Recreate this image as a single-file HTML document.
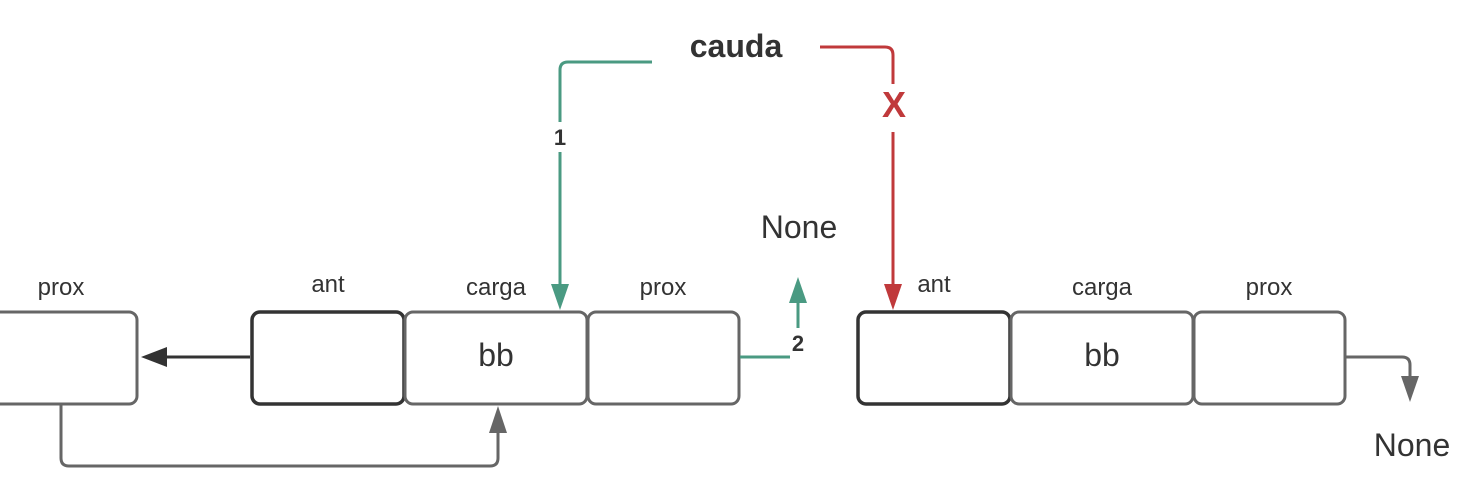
<!DOCTYPE html>
<html><head><style>
html,body{margin:0;padding:0;background:#fff;}
svg{display:block;}
text{font-family:"Liberation Sans",sans-serif;fill:#333;}
</style></head><body>
<svg width="1480" height="502" viewBox="0 0 1480 502" xmlns="http://www.w3.org/2000/svg">
<g fill="#fff" stroke-width="3">
<rect x="-20" y="312" width="157" height="92" rx="8" stroke="#666"/>
<rect x="252" y="312" width="152" height="92" rx="8" stroke="#333" stroke-width="3.5"/>
<rect x="405" y="312" width="182" height="92" rx="8" stroke="#666"/>
<rect x="588" y="312" width="151" height="92" rx="8" stroke="#666"/>
<rect x="858" y="312" width="152" height="92" rx="8" stroke="#333" stroke-width="3.5"/>
<rect x="1011" y="312" width="182" height="92" rx="8" stroke="#666"/>
<rect x="1194" y="312" width="151" height="92" rx="8" stroke="#666"/>
</g>
<g font-size="24" text-anchor="middle">
<text x="61" y="295">prox</text>
<text x="328" y="292">ant</text>
<text x="496" y="295">carga</text>
<text x="663" y="295">prox</text>
<text x="934" y="292">ant</text>
<text x="1102" y="295">carga</text>
<text x="1269" y="295">prox</text>
<text x="496" y="366" font-size="32">bb</text>
<text x="1102" y="366" font-size="32">bb</text>
<text x="799" y="238" font-size="32">None</text>
<text x="1412" y="456" font-size="32">None</text>
<text x="736" y="57" font-size="32" font-weight="bold">cauda</text>
</g>
<!-- grey connectors -->
<path d="M250 357 H165" stroke="#333" stroke-width="3" fill="none"/>
<polygon points="141,357 167,347 167,367" fill="#333"/>
<path d="M61 404 V458 q0 8 8 8 H490 q8 0 8 -8 V430" stroke="#666" stroke-width="3" fill="none"/>
<polygon points="498,406 489,433 507,433" fill="#666"/>
<path d="M1346 357 H1402 q8 0 8 8 V378" stroke="#666" stroke-width="3" fill="none"/>
<polygon points="1410,402 1401,376 1419,376" fill="#666"/>
<!-- green -->
<path d="M652 62 H568 q-8 0 -8 8 V122 M560 152 V286" stroke="#4a9a82" stroke-width="3" fill="none"/>
<polygon points="560,310 551,284 569,284" fill="#4a9a82"/>
<text x="560" y="145" font-size="22" font-weight="bold" text-anchor="middle">1</text>
<path d="M740 357 H790 M798 328 V300" stroke="#4a9a82" stroke-width="3" fill="none"/>
<polygon points="798,277 789,303 807,303" fill="#4a9a82"/>
<text x="798" y="351" font-size="22" font-weight="bold" text-anchor="middle">2</text>
<!-- red -->
<path d="M820 47 H885 q8 0 8 8 V84 M893 132 V286" stroke="#c0393b" stroke-width="3" fill="none"/>
<polygon points="893,310 884,284 902,284" fill="#c0393b"/>
<text x="894" y="117" font-size="36" font-weight="bold" text-anchor="middle" style="fill:#c0393b">X</text>
</svg>
</body></html>
